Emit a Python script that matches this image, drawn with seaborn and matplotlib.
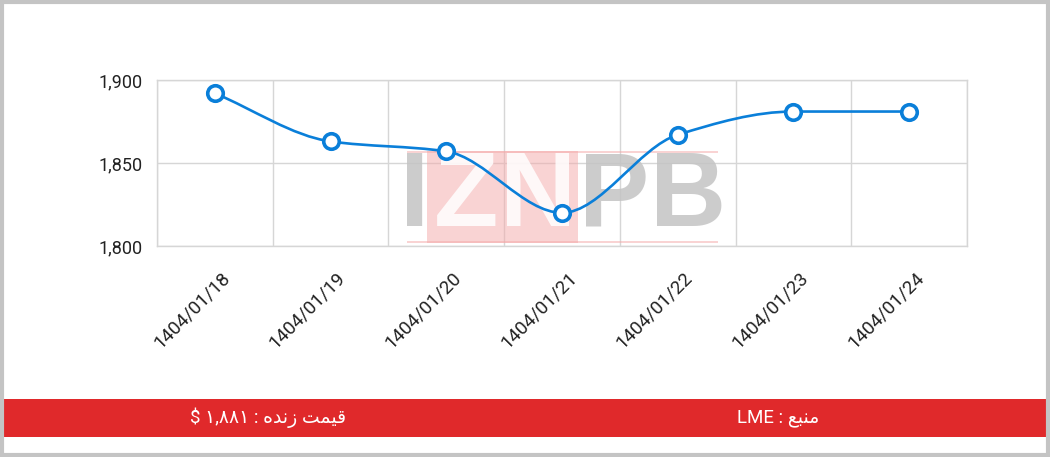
import numpy as np
import matplotlib
matplotlib.use('Agg')
import matplotlib.pyplot as plt
from matplotlib.path import Path
from matplotlib.patches import PathPatch, Rectangle
from matplotlib.ticker import FixedLocator, FuncFormatter
import matplotlib.transforms as mtransforms
import seaborn as sns

dates = ['1404/01/18', '1404/01/19', '1404/01/20', '1404/01/21',
         '1404/01/22', '1404/01/23', '1404/01/24']
prices = [1892, 1863, 1857, 1820, 1867, 1881, 1881]
y_ticks = [1800, 1850, 1900]

# footer text (Arabic presentation forms, visual order)
live_price_label = '$ \u06f1,\u06f8\u06f8\u06f1 : \ufee9\ufeaa\ufee7\ufeaf \ufe96\ufee4\ufef4\ufed7'
source_label = 'LME : \ufeca\ufe92\ufee8\ufee3'

sns.set_theme(style='white')
plt.rcParams['font.family'] = ['Roboto', 'DejaVu Sans']

W, H = 1050, 457
fig = plt.figure(figsize=(W / 100, H / 100), dpi=100)


def px(x, y):
    return x / W, 1 - y / H


ax = fig.add_axes([157 / W, 1 - 246 / H, (967 - 157) / W, (246 - 80) / H])

blue = '#0a7fd9'

# smooth monotone curve through the points (Bezier segments)
xs = np.arange(len(prices), dtype=float)
ys = np.array(prices, dtype=float)
d = np.diff(ys) / np.diff(xs)
m = np.zeros_like(ys)
m[0], m[-1] = d[0], d[-1]
for i in range(1, len(ys) - 1):
    if d[i - 1] * d[i] <= 0:
        m[i] = 0
    else:
        m[i] = 2 / (1 / d[i - 1] + 1 / d[i])
verts = [(xs[0], ys[0])]
codes = [Path.MOVETO]
for i in range(len(xs) - 1):
    h = (xs[i + 1] - xs[i]) / 3
    verts += [(xs[i] + h, ys[i] + m[i] * h),
              (xs[i + 1] - h, ys[i + 1] - m[i + 1] * h),
              (xs[i + 1], ys[i + 1])]
    codes += [Path.CURVE4] * 3
ax.add_patch(PathPatch(Path(verts, codes), fill=False, edgecolor=blue,
                       lw=1.9, zorder=3))

sns.scatterplot(x=dates, y=prices, ax=ax, s=125, color='white',
                edgecolor=blue, linewidth=2.6, zorder=4)

ax.set_xlim(-0.5, len(dates) - 0.5)
ax.set_ylim(1800, 1900)
ax.set_yticks(y_ticks)
ax.yaxis.set_major_formatter(FuncFormatter(lambda v, p: f'{int(v):,}'))
ax.xaxis.set_minor_locator(FixedLocator(np.arange(-0.5, len(dates), 1.0)))
ax.grid(which='minor', axis='x', color='#d6d6d6', lw=1)
ax.grid(which='major', axis='y', color='#d6d6d6', lw=1)
ax.set_axisbelow(True)
for s in ax.spines.values():
    s.set_color('#d6d6d6')
    s.set_linewidth(1)
ax.set_xlabel('')
ax.set_ylabel('')
ax.tick_params(axis='y', length=0, pad=10, labelsize=13, labelcolor='#222222')
ax.tick_params(axis='x', which='major', length=0, pad=21, labelsize=13.5,
               labelcolor='#222222')
ax.tick_params(axis='x', which='minor', length=5, color='#d6d6d6', width=1)
shift = mtransforms.ScaledTranslation(12 / 100, 0, fig.dpi_scale_trans)
for lab in ax.get_xticklabels():
    lab.set_rotation(45)
    lab.set_ha('right')
    lab.set_va('center')
    lab.set_rotation_mode('anchor')
    lab.set_transform(lab.get_transform() + shift)

# watermark
ax.add_artist(Rectangle(px(427, 243), (578 - 427) / W, (243 - 151) / H,
                        transform=fig.transFigure, facecolor='#f4a9a9',
                        alpha=0.5, lw=0, zorder=1))
for yy in (151, 241):
    ax.add_artist(Rectangle(px(407, yy + 2), (718 - 407) / W, 2 / H,
                            transform=fig.transFigure, facecolor='#f4a9a9',
                            alpha=0.5, lw=0, zorder=1))
for ch, cx, col in [('I', 415, '#c4c4c4'), ('Z', 466, 'white'),
                    ('N', 538, 'white'), ('P', 614, '#c4c4c4'),
                    ('B', 688, '#c4c4c4')]:
    ax.text(*px(cx, 199), ch, transform=fig.transFigure, ha='center',
            va='center', fontsize=76, fontweight='bold', color=col,
            family='Liberation Sans', zorder=1.5, alpha=0.85, clip_on=False)

# footer band and frame
fig.patches.append(Rectangle(px(3, 437), (1047 - 3) / W, (437 - 399) / H,
                             transform=fig.transFigure, facecolor='#e0292b',
                             lw=0, zorder=0))
fig.patches.append(Rectangle((0.0015, 0.0035), 0.997, 0.993,
                             transform=fig.transFigure, fill=False,
                             edgecolor='#c4c4c4', lw=3, zorder=5))
fig.text(*px(268, 418), live_price_label, ha='center', va='center',
         fontsize=13.5, color='white')
fig.text(*px(778, 418), source_label, ha='center', va='center',
         fontsize=13.5, color='white')

fig.savefig('out.png', dpi=100)
